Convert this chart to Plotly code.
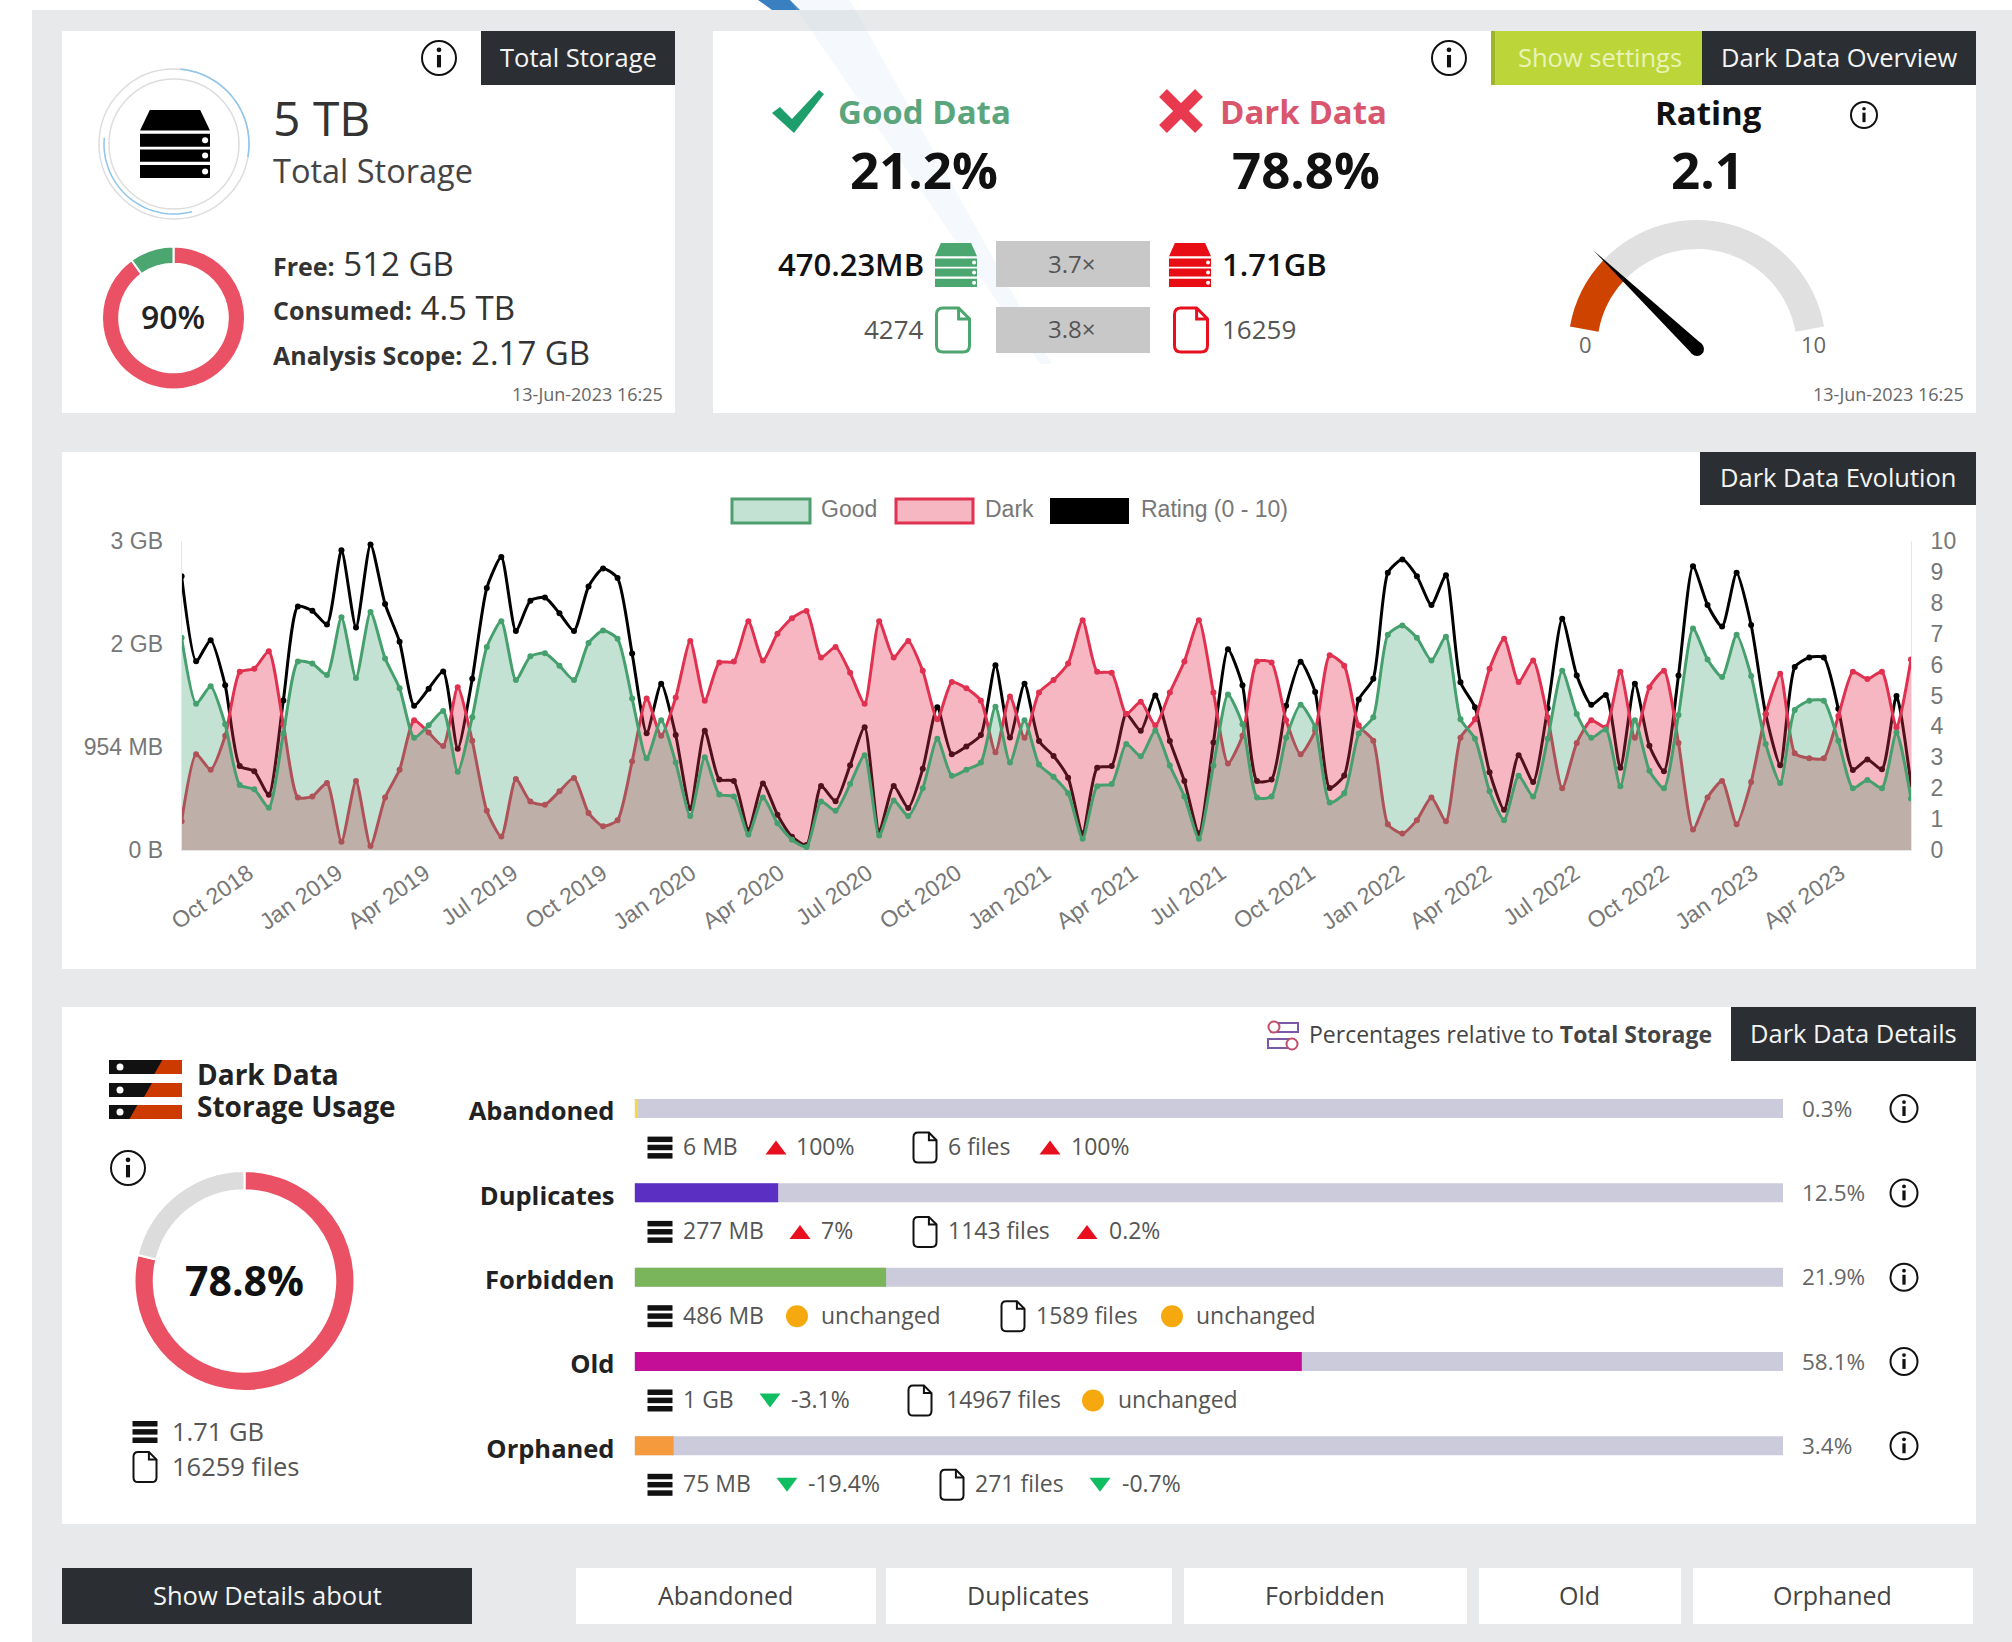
import numpy as np
import pandas as pd
import plotly.graph_objects as go

W, H = 2012, 1642

# ---------- data ----------
DATES = pd.date_range("2018-07-24", periods=120, freq="15D")
GOOD_GB = [2.06,1.42,1.59,1.22,0.63,0.59,0.41,1.13,1.83,1.81,1.70,2.26,1.67,2.31,1.86,1.57,1.09,1.21,1.35,0.76,
           1.29,1.97,2.22,1.65,1.88,1.91,1.79,1.65,2.01,2.13,2.05,1.47,0.89,1.26,0.85,0.33,0.90,0.54,0.52,0.15,
           0.51,0.26,0.10,0.03,0.47,0.38,0.64,0.92,0.14,0.48,0.33,0.60,1.08,0.72,0.78,0.85,1.39,0.85,1.26,0.83,
           0.71,0.55,0.11,0.62,0.64,1.03,0.91,1.16,0.82,0.52,0.11,0.82,1.51,1.22,0.51,0.52,1.09,1.41,1.19,0.46,
           0.55,1.13,1.29,2.09,2.18,2.06,1.84,2.07,1.27,1.08,0.57,0.29,0.72,0.52,1.08,1.74,1.32,1.09,1.17,0.62,
           1.26,0.77,0.60,1.31,2.15,1.85,1.68,2.09,1.69,1.03,0.65,1.36,1.45,1.45,1.06,0.60,0.68,0.60,1.14,0.50]
DARK_GB = [0.28,0.93,0.78,1.11,1.73,1.76,1.93,1.22,0.51,0.52,0.65,0.08,0.67,0.04,0.51,0.78,1.26,1.14,1.01,1.58,
           1.06,0.38,0.13,0.69,0.47,0.44,0.57,0.70,0.36,0.23,0.29,0.86,1.47,1.11,1.48,2.03,1.45,1.82,1.83,2.22,
           1.84,2.10,2.25,2.32,1.87,1.97,1.72,1.42,2.22,1.87,2.03,1.74,1.27,1.63,1.57,1.45,0.95,1.49,1.09,1.53,
           1.65,1.81,2.23,1.73,1.72,1.32,1.44,1.21,1.53,1.83,2.23,1.53,0.84,1.11,1.83,1.82,1.26,0.93,1.16,1.89,
           1.79,1.21,1.06,0.25,0.16,0.29,0.51,0.28,1.09,1.27,1.76,2.05,1.63,1.84,1.29,0.60,1.04,1.26,1.19,1.73,
           1.09,1.58,1.74,1.04,0.20,0.51,0.67,0.25,0.66,1.32,1.71,0.94,0.89,0.89,1.30,1.73,1.66,1.73,1.19,1.85]
RATING = [8.86,6.11,6.79,5.33,2.72,2.55,1.79,4.84,7.88,7.74,7.30,9.70,7.20,9.89,7.96,6.74,4.67,5.22,5.78,3.28,
          5.54,8.48,9.48,7.09,8.07,8.17,7.66,7.09,8.53,9.11,8.80,6.36,3.78,5.38,3.72,1.36,3.86,2.28,2.23,0.65,
          2.15,1.14,0.43,0.16,2.07,1.58,2.74,3.97,0.60,2.07,1.36,2.63,4.62,3.10,3.35,3.72,5.98,3.64,5.38,3.53,
          3.04,2.34,0.54,2.66,2.72,4.40,3.86,5.00,3.53,2.23,0.54,3.48,6.50,5.33,2.23,2.28,4.67,6.09,5.11,2.01,
          2.41,4.87,5.54,8.97,9.40,8.86,7.93,8.89,5.43,4.62,2.52,1.30,3.07,2.20,4.59,7.48,5.65,4.70,5.02,2.66,
          5.38,3.37,2.55,5.65,9.18,7.93,7.23,8.97,7.28,4.40,2.74,5.92,6.23,6.23,4.57,2.59,2.93,2.61,4.98,2.12]
GB_TICKS = [0, 1, 2, 3]
GB_LABELS = ["0 B", "954 MB", "2 GB", "3 GB"]

CONSUMED = [90, 10]
DARK_SHARE = [78.8, 21.2]
GAUGE_VALUE = 2.1
GAUGE_MAX = 10

CATEGORIES = ["Abandoned", "Duplicates", "Forbidden", "Old", "Orphaned"]
SHARES = [0.3, 12.5, 21.9, 58.1, 3.4]
SHARE_LABELS = ["0.3%", "12.5%", "21.9%", "58.1%", "3.4%"]
BAR_COLORS = ["#f2d94e", "#5a2fc2", "#7ab55c", "#c40e98", "#f59b3e"]

# per-row: size text, size trend, trend text, file text, file trend, file trend text
ROWS = [
    ("6 MB", "up", "100%", "6 files", "up", "100%"),
    ("277 MB", "up", "7%", "1143 files", "up", "0.2%"),
    ("486 MB", "same", "unchanged", "1589 files", "same", "unchanged"),
    ("1 GB", "down", "-3.1%", "14967 files", "same", "unchanged"),
    ("75 MB", "down", "-19.4%", "271 files", "down", "-0.7%"),
]
ROW_X = [  # trend marker, trend text, file icon, file text, file marker, file trend text
    (776, 796, 925, 948, 1050, 1071),
    (800, 821, 925, 948, 1087, 1109),
    (797, 821, 1013, 1036, 1172, 1196),
    (770, 791, 920, 946, 1093, 1118),
    (787, 808, 952, 975, 1100, 1122),
]

# ---------- helpers ----------
FONT = "Open Sans"
CHART_FONT = "Liberation Sans"
DARK = "#2b2f33"
RED = "#ea5164"
GREEN = "#4ca66f"
shapes, notes = [], []


def rect(x0, y0, x1, y1, fill, layer="above", line=None, lw=0):
    shapes.append(dict(type="rect", xref="x", yref="y", x0=x0, y0=y0, x1=x1, y1=y1, fillcolor=fill,
                       line=dict(color=line or "rgba(0,0,0,0)", width=lw), layer=layer))


def circ(cx, cy, r, fill="rgba(0,0,0,0)", line=None, lw=0, layer="above"):
    shapes.append(dict(type="circle", xref="x", yref="y", x0=cx - r, y0=cy - r, x1=cx + r, y1=cy + r,
                       fillcolor=fill, line=dict(color=line or "rgba(0,0,0,0)", width=lw), layer=layer))


def path(d, fill="rgba(0,0,0,0)", line=None, lw=0, layer="above"):
    shapes.append(dict(type="path", xref="x", yref="y", path=d, fillcolor=fill,
                       line=dict(color=line or "rgba(0,0,0,0)", width=lw), layer=layer))


def poly(pts, fill, layer="above"):
    path("M" + " L".join(f"{x:.1f},{y:.1f}" for x, y in pts) + " Z", fill=fill, layer=layer)


def text(x, y, s, size=23, color="#444", anchor="left", weight=400, font=FONT):
    notes.append(dict(xref="x", yref="y", x=x, y=y - 1.5, text=s, showarrow=False, xanchor=anchor, yanchor="middle",
                      font=dict(family=font, size=size, color=color, weight=weight), borderpad=0, borderwidth=0))


def info(cx, cy, r=17):
    circ(cx, cy, r, line="#111", lw=2)
    circ(cx, cy - r * 0.48, r * 0.14, fill="#111")
    rect(cx - r * 0.12, cy - r * 0.18, cx + r * 0.12, cy + r * 0.55, "#111")


def server(cx, cy, w, h, color, dot="#fff"):
    x0, x1, y0 = cx - w / 2, cx + w / 2, cy - h / 2
    poly([(x0 + w * 0.14, y0), (x1 - w * 0.14, y0), (x1, y0 + h * 0.3), (x0, y0 + h * 0.3)], color)
    for a, b in ((0.35, 0.54), (0.58, 0.76), (0.81, 1.0)):
        rect(x0, y0 + h * a, x1, y0 + h * b, color)
        circ(x1 - w * 0.07, y0 + h * (a + b) / 2, h * 0.045, fill=dot)


def stack(cx, cy, w=25, h=22):
    x0, x1, y0 = cx - w / 2, cx + w / 2, cy - h / 2
    for a, b in ((0, 0.25), (0.37, 0.62), (0.75, 1.0)):
        rect(x0, y0 + h * a, x1, y0 + h * b, "#111")


def file_icon(cx, cy, w=23, h=30, color="#111", lw=2):
    x0, x1, y0, y1 = cx - w / 2, cx + w / 2, cy - h / 2, cy + h / 2
    c, r = w * 0.33, w * 0.2
    path(f"M{x0+r},{y0} L{x1-c},{y0} L{x1},{y0+c} L{x1},{y1-r} Q{x1},{y1} {x1-r},{y1} L{x0+r},{y1} "
         f"Q{x0},{y1} {x0},{y1-r} L{x0},{y0+r} Q{x0},{y0} {x0+r},{y0} Z", line=color, lw=lw)
    path(f"M{x1-c},{y0} L{x1-c},{y0+c} L{x1},{y0+c}", line=color, lw=lw)


def trend(kind, cx, cy):
    if kind == "up":
        poly([(cx - 10.5, cy + 7), (cx + 10.5, cy + 7), (cx, cy - 7)], "#e8101e")
    elif kind == "down":
        poly([(cx - 10.5, cy - 7), (cx + 10.5, cy - 7), (cx, cy + 7)], "#10bd60")
    else:
        circ(cx, cy, 11, fill="#f5a90f")


def header(x0, y0, x1, y1, s, size=25.5):
    rect(x0, y0, x1, y1, DARK)
    text((x0 + x1) / 2, (y0 + y1) / 2, s, size=size, color="#f4f4f4", anchor="center")


def arc(cx, cy, r, a0, a1, color, lw=1.5):
    t = np.radians(np.linspace(a0, a1, 40))
    d = "M" + " L".join(f"{cx + r*np.cos(v):.1f},{cy - r*np.sin(v):.1f}" for v in t)
    path(d, line=color, lw=lw)


def dom_x(a, b):
    return [a / W, b / W]


def dom_y(a, b):
    return [1 - b / H, 1 - a / H]


def pie(values, colors, cx, cy, r, hole, rotation=0, gap=2):
    return go.Pie(values=values, marker=dict(colors=colors, line=dict(color="rgba(255,255,255,1)", width=gap)),
                  hole=hole, rotation=rotation, direction="clockwise", sort=False, textinfo="none",
                  hoverinfo="skip", showlegend=False, domain=dict(x=dom_x(cx - r, cx + r), y=dom_y(cy - r, cy + r)))


# ---------- backgrounds ----------
rect(32, 10, W, H, "#e8e9ea", layer="below")
for p in ((62, 31, 675, 413), (713, 31, 1976, 413), (62, 452, 1976, 969), (62, 1007, 1976, 1524)):
    rect(*p, "#ffffff", layer="below")
# watermark streak
poly([(758, 0), (790, 0), (800, 10), (772, 10)], "#3a7fc0", layer="below")
poly([(790, 0), (850, 0), (1052, 364), (1040, 364)], "rgba(190,215,240,0.16)", layer="below")

# ---------- Total Storage panel ----------
header(481, 31, 675, 85, "Total Storage")
info(439, 58)
circ(174, 144, 75, line="#dddddd", lw=1.5)
circ(174, 144, 65, line="#dddddd", lw=1.5)
arc(174, 144, 75, 85, -10, "#8ec5ea")
arc(174, 144, 70, 175, 285, "#8ec5ea")
server(175, 144, 70, 68, "#000")
text(273, 119, "5 TB", size=48, color="#333")
text(273, 172, "Total Storage", size=32.5, color="#444")
text(173, 318, "90%", size=32, color="#222", anchor="center", weight=600)
for yy, lab, val in ((265, "Free:", "512 GB"), (309, "Consumed:", "4.5 TB"), (354, "Analysis Scope:", "2.17 GB")):
    text(273, yy, f'<b style="font-size:25px">{lab}</b> {val}', size=33, color="#333")
text(663, 395, "13-Jun-2023 16:25", size=18, color="#666", anchor="right")

# ---------- Overview panel ----------
info(1449, 58)
rect(1491, 31, 1702, 85, "#bcd63a")
rect(1491, 31, 1495, 85, "#9db52a")
text(1600, 58, "Show settings", size=25.5, color="#e9f3b8", anchor="center")
header(1702, 31, 1976, 85, "Dark Data Overview")
poly([(772, 113), (780, 107), (792, 119), (819, 90), (824, 94), (794, 133)], "#1e9e6a")
path("M1163,93 L1199,129", line="#e8394e", lw=11)
path("M1199,93 L1163,129", line="#e8394e", lw=11)
text(838, 113, "Good Data", size=33, color="#5ba57d", weight=700)
text(1220, 113, "Dark Data", size=33, color="#d9566e", weight=700)
text(1708, 114, "Rating", size=33, color="#111", anchor="center", weight=700)
info(1864, 115, 13)
text(924, 170, "21.2%", size=51, color="#111", anchor="center", weight=700)
text(1306, 170, "78.8%", size=51, color="#111", anchor="center", weight=700)
text(1707, 170, "2.1", size=51, color="#111", anchor="center", weight=700)
text(924, 265, "470.23MB", size=31, color="#111", anchor="right", weight=600)
server(956, 265, 42, 44, "#4ca66f")
rect(996, 241, 1150, 287, "#c8c8c8")
text(1071, 265, "3.7×", size=24, color="#555", anchor="center")
server(1190, 265, 42, 44, "#e80c14")
text(1222, 265, "1.71GB", size=31, color="#111", weight=600)
text(924, 330, "4274", size=26, color="#555", anchor="right")
file_icon(953, 330, 33, 44, "#4ca66f", 3)
rect(996, 307, 1150, 353, "#c8c8c8")
text(1071, 330, "3.8×", size=24, color="#555", anchor="center")
file_icon(1191, 330, 33, 44, "#e8101e", 3)
text(1222, 330, "16259", size=26, color="#555")
text(1585, 345, "0", size=22, color="#666", anchor="center")
text(1813, 345, "10", size=22, color="#666", anchor="center")
text(1964, 395, "13-Jun-2023 16:25", size=18, color="#666", anchor="right")

# gauge: 160 degree sweep, the needle angle comes from the rating value
G_CX, G_CY, G_R = 1697, 349, 129
G_SWEEP = 160
ang = np.radians(170 - G_SWEEP * GAUGE_VALUE / GAUGE_MAX)
ux, uy = np.cos(ang), -np.sin(ang)
px_, py_ = -uy, ux
poly([(G_CX + ux * 143, G_CY + uy * 143), (G_CX + px_ * 7, G_CY + py_ * 7), (G_CX - px_ * 7, G_CY - py_ * 7)], "#000")
circ(G_CX, G_CY, 7, fill="#000")

# ---------- Evolution panel ----------
header(1700, 452, 1976, 505, "Dark Data Evolution")
rect(732, 499, 810, 523, "rgba(60,160,110,0.3)", line="#4f9e6f", lw=3)
rect(896, 499, 973, 523, "rgba(230,50,80,0.35)", line="#e03250", lw=3)
rect(1050, 498, 1129, 524, "#000")
text(821, 510, "Good", size=23, color="#777", font=CHART_FONT)
text(985, 510, "Dark", size=23, color="#777", font=CHART_FONT)
text(1141, 510, "Rating (0 - 10)", size=23, color="#777", font=CHART_FONT)

# ---------- Details panel ----------
header(1731, 1007, 1976, 1061, "Dark Data Details")
text(1712, 1035, 'Percentages relative to <b>Total Storage</b>', size=23, color="#444", anchor="right")
rect(1271, 1023, 1298, 1032, "rgba(0,0,0,0)", line="#7a5aa8", lw=2)
circ(1274, 1027, 5.5, fill="#fff", line="#c2506c", lw=2)
rect(1268, 1039, 1294, 1048, "rgba(0,0,0,0)", line="#7a5aa8", lw=2)
circ(1292, 1044, 5.5, fill="#fff", line="#c2506c", lw=2)

# dark data usage icon
for y0, y1, cut in ((1060, 1074, 0.62), (1083, 1097, 0.48), (1105, 1119, 0.28)):
    rect(109, y0, 182, y1, "#111")
    xc = 109 + 73 * cut
    poly([(xc + 8, y0), (182, y0), (182, y1), (xc, y1)], "#cc3a00")
    circ(120, (y0 + y1) / 2, 3.5, fill="#fff")
text(197, 1075, "Dark Data", size=28, color="#222", weight=700)
text(197, 1107, "Storage Usage", size=28, color="#222", weight=700)
info(128, 1168)
text(244.5, 1281, "78.8%", size=41, color="#111", anchor="center", weight=700)
stack(145, 1432)
text(172, 1432, "1.71 GB", size=25.5, color="#555")
file_icon(145, 1467)
text(172, 1467, "16259 files", size=25.5, color="#555")

ROW_Y0, ROW_DY = 1108.6, 84.3
for i, (row, xs) in enumerate(zip(ROWS, ROW_X)):
    ym = ROW_Y0 + i * ROW_DY
    yr = ym + 39
    text(1802, ym + 1, SHARE_LABELS[i], size=22.5, color="#666")
    info(1904, ym, 13.5)
    stack(660, yr)
    text(683, yr, row[0], size=23, color="#555")
    trend(row[1], xs[0], yr)
    text(xs[1], yr, row[2], size=23, color="#555")
    file_icon(xs[2], yr)
    text(xs[3], yr, row[3], size=23, color="#555")
    trend(row[4], xs[4], yr)
    text(xs[5], yr, row[5], size=23, color="#555")

# ---------- bottom buttons ----------
header(62, 1568, 472, 1624, "Show Details about")
for x0, x1, lab in ((576, 876, "Abandoned"), (886, 1172, "Duplicates"), (1184, 1467, "Forbidden"),
                    (1479, 1681, "Old"), (1693, 1973, "Orphaned")):
    rect(x0, 1568, x1, 1624, "#ffffff")
    text((x0 + x1) / 2 - 1, 1596, lab, size=25, color="#444", anchor="center")

# ---------- figure ----------
fig = go.Figure()
# hidden base axes give the pixel frame
fig.add_trace(go.Scatter(x=[0], y=[0], mode="markers", marker=dict(opacity=0), hoverinfo="skip", showlegend=False))

LW, MS = 3, 6
fig.add_trace(go.Scatter(x=DATES, y=RATING, yaxis="y2", xaxis="x2", mode="lines+markers",
                         line=dict(color="#000", width=LW, shape="spline", smoothing=0.6),
                         marker=dict(size=MS, color="#000"), hoverinfo="skip", showlegend=False))
fig.add_trace(go.Scatter(x=DATES, y=DARK_GB, yaxis="y3", xaxis="x2", mode="lines+markers",
                         line=dict(color="#e03250", width=LW, shape="spline", smoothing=0.6),
                         marker=dict(size=MS, color="#e03250"), hoverinfo="skip",
                         showlegend=False, fill="tozeroy", fillcolor="rgba(230,50,80,0.35)"))
fig.add_trace(go.Scatter(x=DATES, y=GOOD_GB, yaxis="y3", xaxis="x2", mode="lines+markers",
                         line=dict(color="rgb(70,160,110)", width=LW, shape="spline", smoothing=0.6),
                         marker=dict(size=MS, color="rgb(70,160,110)"), hoverinfo="skip",
                         showlegend=False, fill="tozeroy", fillcolor="rgba(60,160,110,0.3)"))

# progress bars
fig.add_trace(go.Bar(y=CATEGORIES, x=[100] * 5, orientation="h", xaxis="x3", yaxis="y4", width=0.225,
                     marker=dict(color="#cbcbdc", line=dict(width=0)), hoverinfo="skip", showlegend=False))
fig.add_trace(go.Bar(y=CATEGORIES, x=SHARES, orientation="h", xaxis="x3", yaxis="y4", width=0.225,
                     marker=dict(color=BAR_COLORS, line=dict(width=0)), hoverinfo="skip", showlegend=False))

# donuts
fig.add_trace(pie(CONSUMED, [RED, GREEN], 173.5, 318, 71.5, 0.76))
fig.add_trace(pie(DARK_SHARE, [RED, "#dcdcdc"], 244.5, 1281, 110, 0.825))
# gauge: visible sweep plus a transparent remainder
fig.add_trace(go.Pie(values=[GAUGE_VALUE, GAUGE_MAX - GAUGE_VALUE, GAUGE_MAX * (360 - G_SWEEP) / G_SWEEP],
                     marker=dict(colors=["#cf4300", "#e0e0e0", "rgba(0,0,0,0)"], line=dict(width=0)),
                     hole=(G_R - 29) / G_R, rotation=280, direction="clockwise", sort=False, textinfo="none",
                     hoverinfo="skip", showlegend=False,
                     domain=dict(x=dom_x(G_CX - G_R, G_CX + G_R), y=dom_y(G_CY - G_R, G_CY + G_R))))

tick_grey = "#777"
fig.update_layout(
    width=W, height=H, autosize=False, margin=dict(l=0, r=0, t=0, b=0, pad=0),
    paper_bgcolor="#ffffff", plot_bgcolor="rgba(0,0,0,0)", barmode="overlay", showlegend=False,
    shapes=shapes, annotations=notes,
    font=dict(family=FONT),
    xaxis=dict(domain=[0, 1], range=[0, W], visible=False, fixedrange=True, automargin=False),
    yaxis=dict(domain=[0, 1], range=[H, 0], visible=False, fixedrange=True, automargin=False),
    xaxis2=dict(domain=dom_x(181.6, 1911), anchor="y2", type="date", range=[DATES[0], DATES[-1]],
                tick0="2018-10-01", dtick="M3", tickformat="%b %Y", tickangle=-35, showgrid=False, automargin=False,
                ticks="", zeroline=False,
                tickfont=dict(family=CHART_FONT, size=23, color=tick_grey), showline=True, linecolor="#e6e6e6"),
    yaxis2=dict(domain=dom_y(541, 850), anchor="x2", side="right", range=[0, 10], dtick=1, showgrid=False, automargin=False,
                ticks="outside", ticklen=14, tickcolor="rgba(0,0,0,0)", zeroline=False, showline=True, linecolor="#e6e6e6",
                tickfont=dict(family=CHART_FONT, size=23, color=tick_grey)),
    yaxis3=dict(overlaying="y2", anchor="x2", side="left", range=[0, 3], tickmode="array", tickvals=GB_TICKS,
                ticktext=GB_LABELS, showgrid=False, ticks="outside", ticklen=13, tickcolor="rgba(0,0,0,0)", automargin=False,
                zeroline=False, showline=True, linecolor="#e6e6e6",
                tickfont=dict(family=CHART_FONT, size=23, color=tick_grey)),
    xaxis3=dict(domain=dom_x(634.6, 1783), anchor="y4", range=[0, 100], visible=False, automargin=False),
    yaxis4=dict(domain=dom_y(1066.4, 1487.9), anchor="x3", type="category", categoryorder="array", automargin=False,
                categoryarray=CATEGORIES, range=[4.5, -0.5], showgrid=False, zeroline=False, showline=False,
                ticks="outside", ticklen=14, tickcolor="rgba(0,0,0,0)", ticklabelshift=-3,
                tickfont=dict(family=FONT, size=25.5, color="#222", weight=700)),
)

fig.write_html("out.html", config=dict(displayModeBar=False),
               post_script="document.body.style.margin='0';document.body.style.overflow='hidden';")
